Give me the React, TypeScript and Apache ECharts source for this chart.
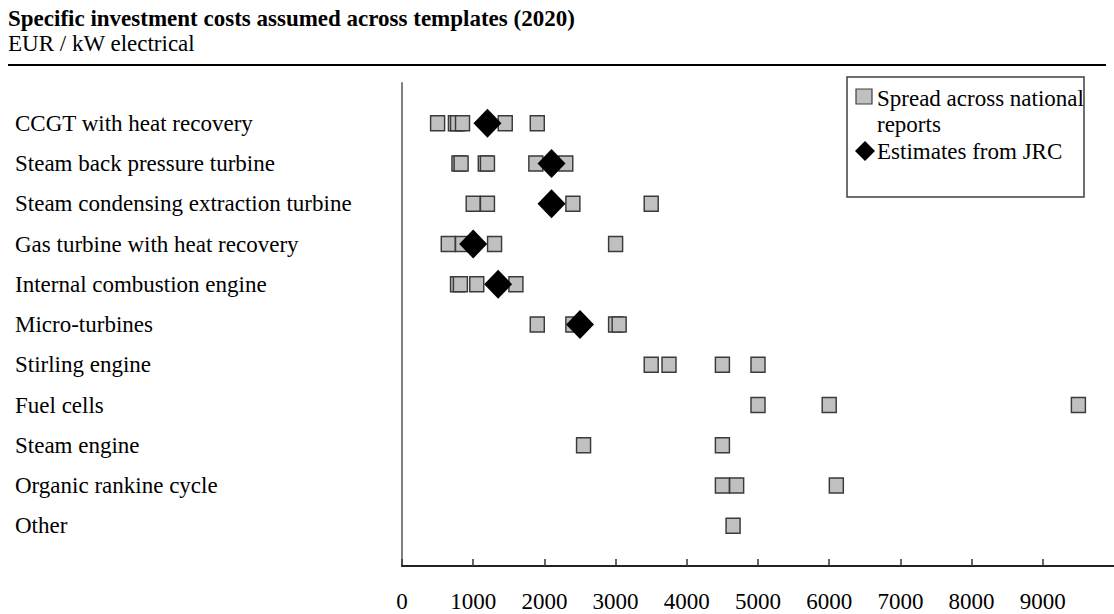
import React, { useEffect, useRef } from "react";
import * as echarts from "echarts";

const titleText = "Specific investment costs assumed across templates (2020)";
const subtitleText = "EUR / kW electrical";

const categories = [
  "CCGT with heat recovery",
  "Steam back pressure turbine",
  "Steam condensing extraction turbine",
  "Gas turbine with heat recovery",
  "Internal combustion engine",
  "Micro-turbines",
  "Stirling engine",
  "Fuel cells",
  "Steam engine",
  "Organic rankine cycle",
  "Other",
];

// Spread across national reports (EUR / kW el.)
const spreadCCGT = [500, 750, 780, 850, 1450, 1900];
const spreadSteamBack = [800, 830, 1170, 1200, 1880, 2300];
const spreadSteamCond = [1000, 1200, 2400, 3500];
const spreadGasTurbine = [650, 850, 1300, 3000];
const spreadICE = [780, 820, 1050, 1600];
const spreadMicro = [1900, 2400, 3000, 3050];
const spreadStirling = [3500, 3750, 4500, 5000];
const spreadFuelCells = [5000, 6000, 9500];
const spreadSteamEngine = [2550, 4500];
const spreadORC = [4500, 4700, 6100];
const spreadOther = [4650];

const spreadValues: number[][] = [
  spreadCCGT,
  spreadSteamBack,
  spreadSteamCond,
  spreadGasTurbine,
  spreadICE,
  spreadMicro,
  spreadStirling,
  spreadFuelCells,
  spreadSteamEngine,
  spreadORC,
  spreadOther,
];

// Estimates from JRC
const jrcValues: (number | null)[] = [1200, 2100, 2100, 1000, 1350, 2500, null, null, null, null, null];

const xMin = 0;
const xMax = 10000;
const xInterval = 1000;

const seriesNames = ["Spread across national reports", "Estimates from JRC"];

const FONT = "'Liberation Serif', 'Times New Roman', Times, serif";

export default function App() {
  const ref = useRef<HTMLDivElement>(null);

  useEffect(() => {
    if (!ref.current) return;
    const chart = echarts.init(ref.current, undefined, { renderer: "svg" });

    const yData = ["", ...categories, ""];
    const spreadData: [number, string][] = [];
    spreadValues.forEach((vals, i) => {
      vals.forEach((v) => spreadData.push([v, categories[i]]));
    });
    const jrcData: [number, string][] = [];
    jrcValues.forEach((v, i) => {
      if (v !== null) jrcData.push([v, categories[i]]);
    });

    chart.setOption({
      animation: false,
      backgroundColor: "#ffffff",
      title: {
        text: titleText,
        subtext: subtitleText,
        left: 8,
        top: 6,
        padding: 0,
        itemGap: 0,
        textStyle: {
          fontFamily: FONT,
          fontSize: 23,
          fontWeight: "bold",
          color: "#000",
          lineHeight: 25,
        },
        subtextStyle: {
          fontFamily: FONT,
          fontSize: 23,
          color: "#000",
          lineHeight: 25,
        },
      },
      grid: {
        left: 402,
        right: -8,
        top: 83,
        bottom: 48,
        containLabel: false,
      },
      xAxis: {
        type: "value",
        min: xMin,
        max: xMax,
        interval: xInterval,
        axisLine: { show: true, lineStyle: { color: "#222", width: 2 } },
        axisTick: { show: true, inside: true, length: 7, lineStyle: { color: "#333", width: 1.5 } },
        axisLabel: {
          show: true,
          margin: 24,
          fontFamily: FONT,
          fontSize: 23,
          color: "#000",
          showMaxLabel: false,
          formatter: (v: number) => String(v),
        },
        splitLine: { show: false },
      },
      yAxis: {
        type: "category",
        data: yData,
        inverse: true,
        boundaryGap: false,
        axisLine: { show: true, lineStyle: { color: "#808080", width: 2 } },
        axisTick: { show: false },
        axisLabel: {
          show: true,
          align: "left",
          margin: 387,
          fontFamily: FONT,
          fontSize: 23,
          color: "#000",
          interval: 0,
        },
        splitLine: { show: false },
      },
      series: [
        {
          name: seriesNames[0],
          type: "scatter",
          symbol: "rect",
          symbolSize: [14, 15],
          itemStyle: { color: "#c0c0c0", borderColor: "#3a3a3a", borderWidth: 1.5, opacity: 1 },
          data: spreadData,
          z: 2,
        },
        {
          name: seriesNames[1],
          type: "scatter",
          symbol: "diamond",
          symbolSize: [28, 29],
          itemStyle: { color: "#000000", opacity: 1 },
          data: jrcData,
          z: 3,
        },
      ],
      graphic: [
        {
          type: "line",
          shape: { x1: 8, y1: 65, x2: 1106, y2: 65 },
          style: { stroke: "#000", lineWidth: 2 },
        },
        {
          type: "group",
          children: [
            {
              type: "rect",
              shape: { x: 847, y: 77, width: 237, height: 120 },
              style: { fill: "#fff", stroke: "#404040", lineWidth: 1.5 },
            },
            {
              type: "rect",
              shape: { x: 856, y: 89, width: 16, height: 15 },
              style: { fill: "#c0c0c0", stroke: "#404040", lineWidth: 1.2 },
            },
            {
              type: "text",
              x: 877,
              y: 85,
              style: {
                text: "Spread across national\nreports",
                fontFamily: FONT,
                fontSize: 23,
                lineHeight: 26,
                fill: "#000",
                verticalAlign: "top",
                align: "left",
              },
            },
            {
              type: "polygon",
              shape: { points: [[865, 141], [875, 151], [865, 161], [855, 151]] },
              style: { fill: "#000" },
            },
            {
              type: "text",
              x: 877,
              y: 151,
              style: {
                text: seriesNames[1],
                fontFamily: FONT,
                fontSize: 23,
                fill: "#000",
                verticalAlign: "middle",
                align: "left",
              },
            },
          ],
        },
      ],
    });

    return () => chart.dispose();
  }, []);

  return (
    <div
      ref={ref}
      style={{ position: "absolute", left: 0, top: 0, width: 1114, height: 614 }}
    />
  );
}
